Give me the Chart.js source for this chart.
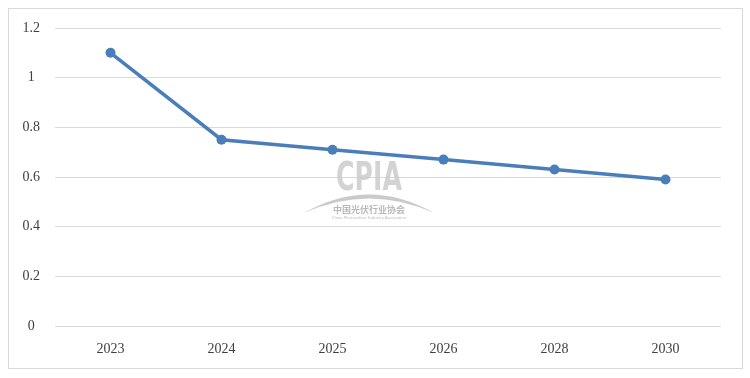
<!DOCTYPE html>
<html>
<head>
<meta charset="utf-8">
<script src="https://cdn.jsdelivr.net/npm/chart.js@4"></script>
<style>
  body { margin: 0; background: #fff; }
  #wrap { width: 750px; height: 378px; position: relative; }
</style>
</head>
<body>
<div id="wrap"><canvas id="costChart" width="750" height="378"></canvas></div>
<script>
const years = ["2023", "2024", "2025", "2026", "2028", "2030"];
const values = [1.1, 0.75, 0.71, 0.67, 0.63, 0.59];
const yTicks = [0, 0.2, 0.4, 0.6, 0.8, 1, 1.2];

const lineBlue = "#4a7ebb";
const gridGrey = "#d9d9d9";
const textGrey = "#404040";

// outer frame + CPIA watermark
const decor = {
  id: "decor",
  beforeDraw(chart) {
    const ctx = chart.ctx;
    ctx.save();
    ctx.strokeStyle = gridGrey;
    ctx.lineWidth = 1;
    ctx.strokeRect(8.5, 8.5, 734, 360);
    ctx.restore();
  },
  afterDatasetsDraw(chart) {
    const ctx = chart.ctx;
    const cx = 369;
    ctx.save();
    ctx.globalAlpha = 0.8;
    ctx.fillStyle = "#c8c8c8";
    ctx.textAlign = "center";
    ctx.textBaseline = "alphabetic";
    ctx.save();
    ctx.translate(cx, 190);
    ctx.scale(0.72, 1.1);
    ctx.font = "bold 35px 'DejaVu Sans', sans-serif";
    ctx.fillText("CPIA", 0, 0);
    ctx.restore();
    // arc under the letters
    ctx.fillStyle = "#bdbdbd";
    ctx.beginPath();
    ctx.moveTo(304, 213);
    ctx.quadraticCurveTo(cx, 176, 434, 213);
    ctx.quadraticCurveTo(cx, 184, 304, 213);
    ctx.fill();
    ctx.fillStyle = "#a8a8a8";
    ctx.font = "bold 9px 'Noto Sans CJK SC'";
    ctx.fillText("中国光伏行业协会", cx, 213);
    ctx.font = "4px 'Noto Sans'";
    ctx.fillText("China Photovoltaic Industry Association", cx, 219);
    ctx.restore();
  }
};

new Chart(document.getElementById("costChart").getContext("2d"), {
  type: "line",
  data: {
    labels: years,
    datasets: [{
      data: values,
      borderColor: lineBlue,
      backgroundColor: lineBlue,
      borderWidth: 3.5,
      pointRadius: 5,
      pointHoverRadius: 5,
      pointBackgroundColor: lineBlue,
      pointBorderWidth: 0,
      tension: 0
    }]
  },
  options: {
    responsive: false,
    animation: false,
    layout: { padding: { left: 8, right: 29, top: 28, bottom: 0 } },
    plugins: { legend: { display: false }, tooltip: { enabled: false } },
    scales: {
      x: {
        offset: true,
        grid: { display: false, drawTicks: false },
        border: { display: false },
        ticks: { color: textGrey, padding: 15, font: { family: "'Liberation Serif', serif", size: 14 } },
        afterFit(axis) { axis.height = 52; }
      },
      y: {
        min: 0,
        max: 1.2,
        afterBuildTicks(axis) { axis.ticks = yTicks.map(v => ({ value: v })); },
        grid: { color: gridGrey, lineWidth: 1, drawTicks: false },
        border: { display: false },
        ticks: {
          color: textGrey,
          padding: 15,
          crossAlign: "center",
          font: { family: "'Liberation Serif', serif", size: 14 },
          callback: v => String(Math.round(v * 10) / 10)
        },
        afterFit(axis) { axis.width = 47; }
      }
    }
  },
  plugins: [decor]
});
</script>
</body>
</html>
